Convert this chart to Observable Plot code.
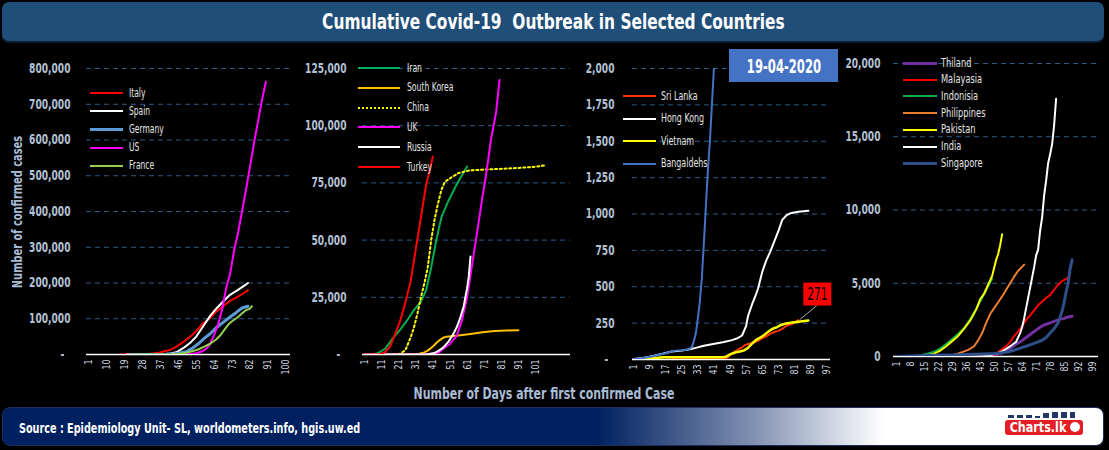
<!DOCTYPE html>
<html><head><meta charset="utf-8">
<script src="https://cdn.jsdelivr.net/npm/d3@7"></script>
<script src="https://cdn.jsdelivr.net/npm/@observablehq/plot@0.6"></script>
<style>
html,body{margin:0;padding:0;background:#000;}
body{width:1109px;height:450px;overflow:hidden;position:relative;font-family:"DejaVu Sans",sans-serif;}
.sq{display:inline-block;white-space:nowrap;}
#title{position:absolute;left:2px;top:2px;width:1102px;height:39px;background:#1f4e79;border-radius:7px;box-shadow:0 2px 0 #0b1f33;color:#fff;font-weight:bold;font-size:22px;display:flex;align-items:center;justify-content:center;}
#title .sq{transform:scaleX(0.70);}
.leg{position:absolute;color:#e6e6e6;font-size:12px;white-space:nowrap;transform-origin:0 50%;}
.legline{position:absolute;}
#ytitle{position:absolute;left:17px;top:212px;transform:translate(-50%,-50%) rotate(-90deg) scaleX(0.68);color:#a9bcd6;font-weight:bold;font-size:14.5px;white-space:nowrap;}
#xtitle{position:absolute;left:544px;top:394px;transform:translate(-50%,-50%) scaleX(0.73);color:#a9bcd6;font-weight:bold;font-size:15px;white-space:nowrap;}
#date{position:absolute;left:729px;top:49px;width:109px;height:33px;background:#4472c4;color:#fff;font-weight:bold;font-size:20px;display:flex;align-items:center;justify-content:center;}
#date .sq{transform:scaleX(0.58);}
#footer{position:absolute;left:2px;top:407px;width:1102px;height:39px;border-radius:8px;border:1px solid #1a2f5a;box-sizing:border-box;background:linear-gradient(90deg,#002060 0%,#002060 54%,#7f8fb0 68%,#ffffff 80%,#ffffff 100%);}
#src{position:absolute;left:16px;top:0;height:39px;display:flex;align-items:center;color:#fff;font-weight:bold;font-size:14px;}
#src .sq{transform:scaleX(0.69);transform-origin:0 50%;}
#logo{position:absolute;left:1005px;top:412px;width:80px;height:26px;}
</style></head>
<body>
<div id="title"><span class="sq">Cumulative Covid-19&nbsp; Outbreak in Selected Countries</span></div>
<div id="footer"><div id="src"><span class="sq">Source : Epidemiology Unit- SL, worldometers.info, hgis.uw.ed</span></div></div>
<div id="logo">
  <svg width="80" height="26">
    <rect x="3" y="3" width="6" height="3" fill="#1f3864"/><rect x="12" y="3" width="6" height="3" fill="#1f3864"/>
    <rect x="21" y="3" width="6" height="3" fill="#1f3864"/><rect x="30" y="4" width="5" height="2" fill="#1f3864"/>
    <rect x="38" y="1" width="6" height="5" fill="#1f3864"/><rect x="47" y="0" width="6" height="6" fill="#1f3864"/>
    <rect x="56" y="-2" width="6" height="8" fill="#1f3864"/><rect x="65" y="-3" width="5" height="9" fill="#1f3864"/>
    <rect x="0" y="8" width="78" height="15" rx="3" fill="#e31e24"/>
    <text x="0" y="0" transform="translate(33,20) scale(0.8,1)" text-anchor="middle" fill="#fff" font-weight="bold" font-size="14" font-family="DejaVu Sans, sans-serif">Charts.lk</text>
    <circle cx="70" cy="15" r="5" fill="#fff"/>
  </svg>
</div>
<div id="ytitle">Number of confirmed cases</div>
<div id="xtitle">Number of Days after first confirmed Case</div>
<script>
// ---------- Panel 1 data: [day, cumulative cases] ----------
const italy   = [[17,0],[22,20],[26,400],[30,1100],[33,2500],[36,4600],[39,9200],[42,13000],[45,22000],[48,33000],[52,50000],[55,65000],[58,85000],[62,102000],[65,120000],[69,137000],[72,150000],[76,162000],[79,172000],[81,180000]];
const spain   = [[20,0],[30,50],[38,700],[42,3000],[45,6000],[49,20000],[52,33000],[55,50000],[58,75000],[62,108000],[65,128000],[69,151000],[72,167000],[76,181000],[79,192000],[81,200000]];
const germany = [[22,10],[35,100],[40,500],[44,2000],[47,4000],[50,8000],[53,17000],[56,30000],[59,45000],[62,58000],[65,75000],[69,92000],[72,105000],[75,117000],[78,130000],[81,135000]];
const us      = [[48,500],[52,1500],[55,3500],[58,9000],[60,16000],[62,30000],[64,55000],[66,85000],[68,125000],[70,185000],[72,225000],[74,290000],[76,340000],[78,400000],[80,460000],[82,525000],[84,590000],[86,650000],[88,710000],[90,763000]];
const france  = [[22,10],[35,100],[43,1000],[47,2000],[50,5000],[53,9000],[56,14000],[59,22000],[62,30000],[65,42000],[67,53000],[69,68000],[71,83000],[73,93000],[76,105000],[78,115000],[80,124000],[82,128000],[83,135000]];
const p1Names  = ["Italy","Spain","Germany","US","France"];
const p1Colors = ["#ff0000","#ffffff","#5b9bd5","#ff00ff","#92d050"];
const p1Ticks  = [0,100000,200000,300000,400000,500000,600000,700000,800000];
const p1Days   = [1,10,19,28,37,46,55,64,73,82,91,100];

// ---------- Panel 2 data ----------
const iran    = [[1,2],[5,50],[9,600],[13,2500],[18,7500],[22,11000],[26,15000],[30,19500],[34,23000],[37,28000],[40,38000],[43,50000],[46,60000],[50,67000],[54,73000],[57,77000],[61,82200]];
const skorea  = [[1,1],[20,30],[30,100],[33,350],[36,900],[38,1700],[41,3500],[43,5000],[45,6300],[47,7300],[49,7800],[53,8100],[57,8400],[63,9000],[70,9700],[77,10300],[84,10500],[91,10650]];
const china   = [[18,0],[22,300],[25,2000],[28,7500],[30,12000],[32,18000],[34,25000],[36,31000],[38,38000],[40,50000],[42,59000],[44,66000],[46,72000],[48,75500],[52,77500],[56,79300],[62,80400],[70,80800],[80,81100],[90,81500],[100,82000],[107,82700]];
const uk      = [[1,2],[20,9],[30,20],[36,100],[40,300],[44,600],[47,2500],[51,4600],[55,8300],[58,15000],[61,25000],[64,39500],[67,54000],[70,69000],[72,78000],[75,94000],[78,106000],[80,120000]];
const russia  = [[1,0],[30,10],[38,150],[42,700],[44,1500],[47,3000],[50,5500],[53,9000],[55,12000],[57,16000],[59,21000],[60,25000],[61,29000],[62,34000],[63,42800]];
const turkey  = [[1,1],[8,5],[10,100],[13,1000],[16,3600],[19,9000],[22,15000],[25,23000],[28,32000],[31,46000],[34,60000],[37,74000],[39,80000],[41,86500]];
const p2Names  = ["Iran","South Korea","China","UK","Russia","Turkey"];
const p2Colors = ["#00b050","#ffc000","#ffff00","#ff00ff","#ffffff","#ff0000"];
const p2Ticks  = [0,25000,50000,75000,100000,125000];
const p2Days   = [1,11,21,31,41,51,61,71,81,91,101];

// ---------- Panel 3 data ----------
const srilanka   = [[18,1],[46,1],[47,6],[48,18],[50,42],[52,60],[54,77],[55,82],[56,95],[57,102],[58,106],[60,113],[62,122],[63,130],[65,146],[67,159],[69,176],[71,189],[73,197],[75,210],[77,232],[79,240],[81,250],[83,271]];
const hongkong   = [[1,1],[8,15],[15,38],[20,55],[25,61],[29,70],[32,80],[36,95],[42,110],[46,120],[50,133],[53,148],[55,165],[57,230],[58,300],[60,380],[62,450],[63,490],[65,600],[67,680],[69,740],[71,810],[73,880],[75,960],[77,990],[79,1005],[83,1015],[88,1022]];
const vietnam    = [[1,2],[9,5],[12,10],[16,16],[46,16],[47,20],[49,35],[52,50],[54,55],[56,63],[58,80],[60,110],[62,135],[64,150],[66,169],[68,190],[70,210],[72,220],[74,235],[77,248],[80,255],[83,260],[88,268]];
const bangladesh = [[1,3],[5,8],[10,20],[14,33],[17,43],[20,55],[22,61],[27,65],[29,75],[30,85],[31,125],[32,180],[33,280],[34,400],[35,560],[36,800],[37,1050],[38,1300],[39,1500],[40,1750],[41,2000],[42,2250],[43,2456]];
const p3Names  = ["Sri Lanka","Hong Kong","Vietnam","Bangaldehs"];
const p3Colors = ["#ff3300","#ffffff","#ffff00","#4472c4"];
const p3Ticks  = [0,250,500,750,1000,1250,1500,1750,2000];
const p3Days   = [1,9,17,25,33,41,49,57,65,73,81,89,97];
const srilankaLabel = "271";

// ---------- Panel 4 data ----------
const thailand    = [[1,4],[30,40],[45,60],[50,100],[53,200],[55,330],[57,450],[59,650],[61,850],[63,1000],[65,1200],[67,1400],[69,1600],[71,1800],[73,2000],[75,2150],[77,2250],[79,2350],[81,2450],[83,2550],[85,2600],[87,2700],[89,2750]];
const malaysia    = [[1,3],[20,20],[40,30],[47,50],[50,120],[52,300],[54,500],[56,700],[58,1000],[60,1400],[62,1700],[64,2100],[66,2500],[68,2800],[70,3150],[72,3500],[74,3750],[76,4000],[78,4200],[80,4550],[82,4900],[84,5150],[86,5300],[87,5390]];
const indonesia   = [[1,2],[10,20],[14,100],[17,200],[20,330],[23,540],[26,850],[29,1200],[32,1550],[35,1950],[38,2550],[41,3250],[44,4000],[47,4800],[49,5300]];
const philippines = [[28,50],[31,150],[34,300],[37,450],[40,700],[42,1100],[44,1600],[46,2300],[48,2900],[50,3300],[52,3700],[54,4100],[56,4550],[58,5000],[60,5450],[62,5850],[65,6270]];
const pakistan    = [[1,2],[8,5],[14,20],[17,80],[20,190],[23,400],[26,700],[29,1050],[32,1400],[35,1900],[38,2450],[41,3200],[43,3900],[45,4300],[47,4900],[49,5500],[51,6600],[52,7000],[53,7600],[54,8350]];
const india       = [[1,1],[33,3],[40,5],[45,40],[48,100],[51,180],[54,350],[56,520],[58,700],[60,900],[61,1000],[62,1300],[63,1600],[64,2000],[65,2600],[66,3300],[67,4000],[68,4700],[69,5400],[70,6100],[71,6900],[72,7300],[73,8600],[74,9500],[75,11000],[76,12000],[77,13200],[78,13800],[79,14500],[80,15800],[81,17600]];
const singapore   = [[1,1],[10,40],[20,80],[30,110],[40,150],[45,170],[50,200],[54,250],[57,320],[60,430],[63,570],[66,700],[69,850],[72,1000],[74,1110],[76,1300],[78,1600],[80,1900],[82,2300],[83,2700],[84,3100],[85,3700],[86,4400],[87,5000],[88,6000],[89,6600]];
const p4Names  = ["Thiland","Malayasia","Indonisia","Philippines","Pakistan","India","Singapore"];
const p4Colors = ["#7030a0","#ff0000","#00b050","#ed7d31","#ffff00","#ffffff","#2f4f8a"];
const p4Ticks  = [0,5000,10000,15000,20000];
const p4Days   = [1,8,15,22,29,36,43,50,57,64,71,78,85,92,99];

const FONT = '"DejaVu Sans",sans-serif';
const dashFmt = v => v === 0 ? "-\u00a0\u00a0" : d3.format(",")(v);

// horizontally condense SVG text around its anchor (numeric x/y folded into the transform)
function squeeze(sel, k) {
  const num = v => v != null && /^-?[\d.]+$/.test(v.trim());
  sel.each(function() {
    const t = this.getAttribute("transform") || "";
    let x = 0, y = 0;
    const ax = this.getAttribute("x"), ay = this.getAttribute("y");
    if (num(ax)) { x = +ax; this.removeAttribute("x"); }
    if (num(ay)) { y = +ay; this.removeAttribute("y"); }
    this.setAttribute("transform", `${t} translate(${x},${y}) scale(${k},1)`);
  });
}

function makePanel(cfg) {
  const marks = [
    Plot.ruleY(cfg.yTicks.filter(v => v > 0), {stroke: "#2b5c8c", strokeDasharray: "5,4", strokeWidth: 1}),
    Plot.ruleY([0], {stroke: "#ffffff", strokeWidth: 1.5}),
    ...cfg.series.map(s => Plot.line(s.data, {
      x: d => d[0], y: d => d[1], stroke: s.color, strokeWidth: s.w,
      strokeDasharray: s.dash, clip: true
    }))
  ];
  const chart = Plot.plot({
    width: cfg.width, height: cfg.height,
    marginLeft: cfg.marginLeft, marginRight: 0, marginTop: cfg.marginTop, marginBottom: cfg.marginBottom,
    style: {background: "transparent", color: "#c9d3e3", fontFamily: FONT, overflow: "visible"},
    x: {domain: cfg.xDomain, ticks: cfg.xTicks, tickRotate: -90, tickSize: 0, tickPadding: 5, label: null, tickFormat: d => String(d)},
    y: {domain: cfg.yDomain, ticks: cfg.yTicks, tickSize: 0, tickPadding: cfg.yPad, label: null, tickFormat: cfg.yFormat},
    marks
  });
  chart.style.position = "absolute";
  chart.style.left = cfg.left + "px";
  chart.style.top = "0px";
  const xt = d3.select(chart).selectAll('g[aria-label^="x-axis"] text').attr("font-size", 11).attr("fill", "#d0d6e0");
  const yt = d3.select(chart).selectAll('g[aria-label^="y-axis"] text').attr("font-size", 14).attr("font-weight", "bold").attr("fill", "#b4c2d6");
  squeeze(xt, 0.72);
  squeeze(yt, 0.65);
  document.body.appendChild(chart);
  return chart;
}

function legend(cfg) {
  cfg.series.forEach((s, i) => {
    const y = cfg.top + i * cfg.step;
    const l = document.createElement("div");
    l.className = "legline";
    l.style.left = cfg.x + "px"; l.style.width = cfg.len + "px";
    l.style.top = (y - s.w / 2) + "px";
    l.style.height = "0px";
    l.style.borderTop = `${s.w}px ${s.dash ? "dotted" : "solid"} ${s.color}`;
    document.body.appendChild(l);
    const t = document.createElement("div");
    t.className = "leg";
    t.style.left = cfg.tx + "px"; t.style.top = (y - 8.5) + "px";
    t.style.fontSize = cfg.fs + "px";
    t.style.transform = `scaleX(${cfg.k})`;
    t.textContent = s.name;
    document.body.appendChild(t);
  });
}

const widths1 = [2, 2, 3, 2, 2];
const s1 = [italy, spain, germany, us, france].map((d, i) => ({name: p1Names[i], data: d, color: p1Colors[i], w: widths1[i]}));
const s2 = [iran, skorea, china, uk, russia, turkey].map((d, i) => ({name: p2Names[i], data: d, color: p2Colors[i], w: 2, dash: p2Names[i] === "China" ? "2,2.7" : null}));
const widths3 = [2, 2, 2.5, 2];
const s3 = [srilanka, hongkong, vietnam, bangladesh].map((d, i) => ({name: p3Names[i], data: d, color: p3Colors[i], w: widths3[i]}));
const widths4 = [3, 2, 2, 2, 2, 2, 3];
const s4 = [thailand, malaysia, indonesia, philippines, pakistan, india, singapore].map((d, i) => ({name: p4Names[i], data: d, color: p4Colors[i], w: widths4[i]}));

makePanel({left: 0, width: 290, height: 394, marginLeft: 86, marginTop: 68, marginBottom: 40, xDomain: [-0.2, 102.4], xTicks: p1Days, yDomain: [0, 800000], yTicks: p1Ticks, yPad: 16, yFormat: dashFmt, series: s1});
makePanel({left: 295, width: 275, height: 394, marginLeft: 67, marginTop: 68, marginBottom: 40, xDomain: [-0.17, 121.5], xTicks: p2Days, yDomain: [0, 125000], yTicks: p2Ticks, yPad: 16, yFormat: dashFmt, series: s2});
const c3 = makePanel({left: 570, width: 260, height: 399, marginLeft: 62, marginTop: 68, marginBottom: 40, xDomain: [0.5, 99], xTicks: p3Days, yDomain: [0, 2000], yTicks: p3Ticks, yPad: 18, yFormat: dashFmt, series: s3});
makePanel({left: 830, width: 268, height: 396, marginLeft: 63, marginTop: 63, marginBottom: 40, xDomain: [-0.35, 102.2], xTicks: p4Days, yDomain: [0, 20000], yTicks: p4Ticks, yPad: 13, yFormat: d3.format(","), series: s4});

// Sri Lanka end-value callout, placed from the chart's own scales
{
  const last = srilanka[srilanka.length - 1];
  const px = c3.scale("x").apply(last[0]);
  const py = c3.scale("y").apply(last[1]);
  const g = d3.select(c3).append("g");
  g.append("line").attr("x1", px + 2).attr("y1", py).attr("x2", px + 19).attr("y2", py - 14).attr("stroke", "#a6a6a6").attr("stroke-width", 1);
  g.append("rect").attr("x", px + 5.5).attr("y", py - 37).attr("width", 28).attr("height", 23).attr("fill", "#ff0000");
  g.append("text").attr("transform", `translate(${px + 19.5},${py - 19.5}) scale(0.62,1)`).attr("text-anchor", "middle").attr("fill", "#000").attr("font-size", 17).attr("font-family", FONT).text(srilankaLabel);
}

legend({series: s1, x: 90, len: 33, tx: 129, top: 93, step: 18.2, fs: 13, k: 0.58});
legend({series: s2, x: 358, len: 42, tx: 407, top: 68, step: 19.8, fs: 13, k: 0.59});
legend({series: s3, x: 623, len: 33, tx: 661, top: 96, step: 22.5, fs: 13, k: 0.61});
legend({series: s4, x: 903, len: 34, tx: 941, top: 63, step: 16.7, fs: 13, k: 0.635});

const dt = document.createElement("div"); dt.id = "date";
const dts = document.createElement("span"); dts.className = "sq"; dts.textContent = "19-04-2020";
dt.appendChild(dts); document.body.appendChild(dt);
</script>
</body></html>
